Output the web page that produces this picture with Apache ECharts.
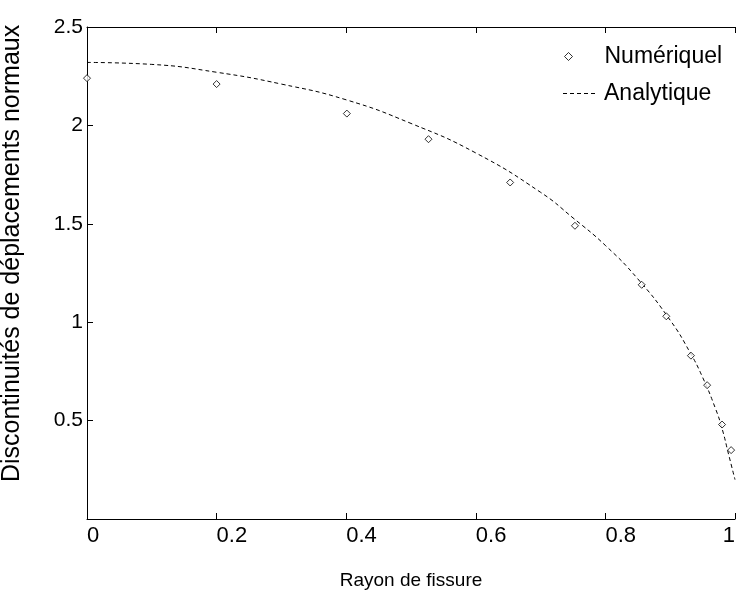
<!DOCTYPE html>
<html>
<head>
<meta charset="utf-8">
<script src="https://cdn.jsdelivr.net/npm/echarts@6/dist/echarts.min.js"></script>
<style>
  html, body { margin: 0; padding: 0; background: #fff; }
  #chart { width: 738px; height: 597px; }
</style>
</head>
<body>
<div id="chart"></div>
<script>
// rayon de fissure (points numériques)
const rayonNum = [0, 0.2, 0.401, 0.527, 0.653, 0.753, 0.856, 0.894, 0.932, 0.957, 0.98, 0.994]
const valNum = [2.24, 2.21, 2.06, 1.93, 1.71, 1.49, 1.19, 1.03, 0.83, 0.68, 0.48, 0.35]

// courbe analytique
const rayonAna = [0, 0.1, 0.2, 0.3, 0.4, 0.5, 0.6, 0.7, 0.75, 0.8, 0.85, 0.9, 0.93, 0.95, 0.97, 0.98, 0.99, 1.0]
const valAna = [2.32, 2.31, 2.27, 2.21, 2.13, 2.01, 1.86, 1.66, 1.53, 1.39, 1.22, 1.01, 0.85, 0.72, 0.56, 0.46, 0.33, 0.2]

const xTicks = [0, 0.2, 0.4, 0.6, 0.8, 1]
const yTicks = [0.5, 1, 1.5, 2, 2.5]

const font = 'Liberation Sans, Arial, sans-serif'
// petit trait pointillé pour la légende
const dashIcon = 'path://M0,0h4v1H0z M7,0h4v1H7z M14,0h4v1h-4z M21,0h4v1h-4z M28,0h4v1h-4z'

const chart = echarts.init(document.getElementById('chart'))

chart.setOption({
  animation: false,
  backgroundColor: '#fff',
  grid: { left: 87, right: 0, top: 27, bottom: 78 },
  legend: [
    {
      left: 564,
      top: 45,
      padding: 0,
      icon: 'diamond',
      itemWidth: 8,
      itemHeight: 8,
      itemStyle: { color: '#fff', borderColor: '#000', borderWidth: 1 },
      textStyle: { fontFamily: font, fontSize: 23, color: '#000', padding: [0, 0, 0, 27] },
      data: ['Numériquel'],
    },
    {
      left: 563,
      top: 82,
      padding: 0,
      icon: dashIcon,
      itemWidth: 32,
      itemHeight: 1.2,
      itemStyle: { color: '#000', borderWidth: 0 },
      textStyle: { fontFamily: font, fontSize: 23, color: '#000', padding: [0, 0, 0, 4] },
      data: ['Analytique'],
    },
  ],
  xAxis: [
    {
      type: 'value',
      min: 0,
      max: 1,
      interval: 0.2,
      name: 'Rayon de fissure',
      nameLocation: 'middle',
      nameGap: 52,
      nameTextStyle: { fontFamily: font, fontSize: 19, color: '#000' },
      axisLine: { onZero: false, lineStyle: { color: '#000', width: 1 } },
      axisTick: { inside: true, length: 6, lineStyle: { color: '#000' } },
      axisLabel: {
        fontFamily: font,
        fontSize: 22,
        color: '#000',
        align: 'left',
        margin: 6,
        alignMaxLabel: 'right',
        formatter: (v) => (xTicks.includes(+v.toFixed(1)) ? String(+v.toFixed(1)) : ''),
      },
      splitLine: { show: false },
    },
    {
      type: 'value',
      position: 'top',
      min: 0,
      max: 1,
      interval: 0.2,
      axisLine: { onZero: false, lineStyle: { color: '#000', width: 1 } },
      axisTick: { inside: true, length: 6, lineStyle: { color: '#000' } },
      axisLabel: { show: false },
      splitLine: { show: false },
    },
  ],
  yAxis: {
    type: 'value',
    min: 0,
    max: 2.5,
    interval: 0.5,
    axisLine: { onZero: false, lineStyle: { color: '#000', width: 1 } },
    axisTick: { inside: true, length: 6, lineStyle: { color: '#000' } },
    axisLabel: {
      fontFamily: font,
      fontSize: 21,
      color: '#000',
      margin: 4,
      showMinLabel: false,
      formatter: (v) => (yTicks.includes(v) ? String(v) : ''),
    },
    splitLine: { show: false },
  },
  graphic: [
    {
      type: 'text',
      x: 12,
      y: 482,
      rotation: Math.PI / 2,
      style: {
        text: 'Discontinuités de déplacements normaux',
        font: '25px ' + font,
        fill: '#000',
        textAlign: 'left',
        textVerticalAlign: 'middle',
      },
    },
  ],
  series: [
    {
      name: 'Numériquel',
      type: 'scatter',
      symbol: 'diamond',
      symbolSize: 7,
      itemStyle: { color: '#fff', borderColor: '#000', borderWidth: 1 },
      data: rayonNum.map((r, i) => [r, valNum[i]]),
      z: 3,
    },
    {
      name: 'Analytique',
      type: 'line',
      smooth: true,
      showSymbol: false,
      symbol: 'none',
      lineStyle: { color: '#000', width: 1, type: [4, 3] },
      itemStyle: { color: '#000' },
      data: rayonAna.map((r, i) => [r, valAna[i]]),
      z: 2,
    },
  ],
})
</script>
</body>
</html>
